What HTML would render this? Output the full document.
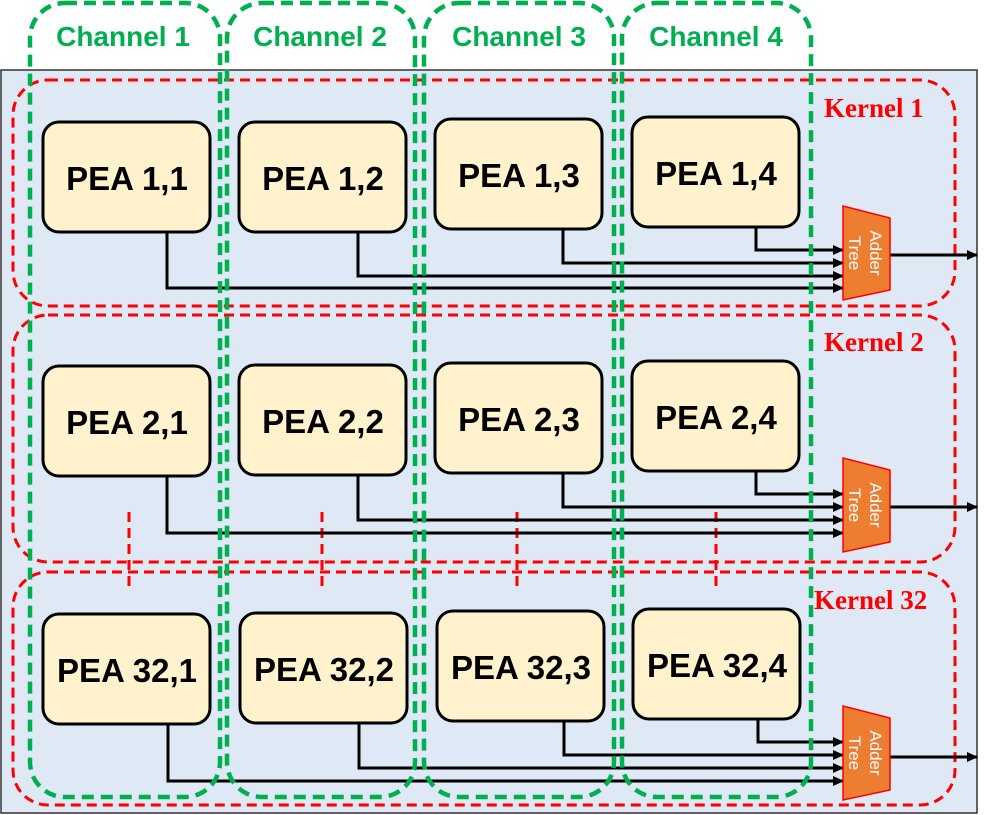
<!DOCTYPE html><html><head><style>body{margin:0;background:#fff}svg{display:block}</style></head><body>
<svg width="988" height="815" viewBox="0 0 988 815" xmlns="http://www.w3.org/2000/svg">
<defs><marker id="a" markerWidth="11" markerHeight="10" refX="10" refY="5" orient="auto" markerUnits="userSpaceOnUse"><path d="M0,0L11,5L0,10z" fill="#000"/></marker></defs>
<rect x="1" y="70" width="976" height="743" fill="#dee9f5" stroke="#333" stroke-width="1.5"/>
<g fill="none" stroke="#f00" stroke-width="3" stroke-dasharray="10,6">
<rect x="13" y="80" width="942" height="226" rx="35"/>
<rect x="13" y="315" width="942" height="247" rx="35"/>
<rect x="13" y="572" width="942" height="233" rx="35"/>
<path d="M129 512V590M322 512V590M517 512V590M716 512V590"/>
</g>
<g font-family="Liberation Serif,serif" font-weight="bold" font-size="27" fill="#f00">
<text x="824" y="117">Kernel 1</text><text x="824" y="351">Kernel 2</text><text x="814" y="609">Kernel 32</text></g>
<g fill="#fff2cc" stroke="#000" stroke-width="3">
<rect x="43" y="122" width="167" height="110" rx="16"/><rect x="239" y="122" width="167" height="110" rx="16"/><rect x="435" y="119" width="167" height="110" rx="16"/><rect x="632" y="117" width="167" height="110" rx="16"/>
<rect x="43" y="366" width="167" height="110" rx="16"/><rect x="239" y="365" width="167" height="110" rx="16"/><rect x="435" y="363" width="167" height="110" rx="16"/><rect x="632" y="361" width="167" height="110" rx="16"/>
<rect x="43" y="614" width="167" height="110" rx="16"/><rect x="240" y="613" width="167" height="110" rx="16"/><rect x="437" y="611" width="167" height="110" rx="16"/><rect x="633" y="609" width="167" height="110" rx="16"/>
</g>
<g font-family="Liberation Sans,sans-serif" font-weight="bold" font-size="33" text-anchor="middle" fill="#000">
<text x="127" y="190">PEA 1,1</text><text x="323" y="190">PEA 1,2</text><text x="519" y="187">PEA 1,3</text><text x="716" y="185">PEA 1,4</text>
<text x="127" y="434">PEA 2,1</text><text x="323" y="433">PEA 2,2</text><text x="519" y="431">PEA 2,3</text><text x="716" y="429">PEA 2,4</text>
<text x="127" y="682">PEA 32,1</text><text x="324" y="681">PEA 32,2</text><text x="521" y="679">PEA 32,3</text><text x="717" y="677">PEA 32,4</text>
</g>
<g fill="none" stroke="#000" stroke-width="3" marker-end="url(#a)">
<path d="M756 227V250H843"/><path d="M563 229V263H843"/><path d="M358 232V276H843"/><path d="M167 232V288H843"/><path d="M890 255H977"/>
<path d="M756 471V494H843"/><path d="M563 473V507H843"/><path d="M358 475V520H843"/><path d="M167 476V533H843"/><path d="M890 507H977"/>
<path d="M758 719V742H843"/><path d="M564 721V755H843"/><path d="M359 723V768H843"/><path d="M168 724V781H843"/><path d="M890 757H977"/>
</g>
<g fill="#ed7d31" stroke="#f00" stroke-width="1.5">
<path d="M843 206L890 218V290L843 300z"/><path d="M843 458L890 470V542L843 552z"/><path d="M843 706L890 718V790L843 800z"/>
</g>
<g font-family="Liberation Sans,sans-serif" font-size="17" fill="#fff" text-anchor="middle">
<text transform="translate(870,253) rotate(90)">Adder</text><text transform="translate(849,253) rotate(90)">Tree</text>
<text transform="translate(870,505) rotate(90)">Adder</text><text transform="translate(849,505) rotate(90)">Tree</text>
<text transform="translate(870,753) rotate(90)">Adder</text><text transform="translate(849,753) rotate(90)">Tree</text>
</g>
<g fill="none" stroke="#00b050" stroke-width="4.5" stroke-dasharray="12,7">
<rect x="30" y="3" width="190" height="794" rx="35"/><rect x="227" y="3" width="188" height="794" rx="35"/>
<rect x="424" y="3" width="190" height="794" rx="35"/><rect x="622" y="3" width="189" height="794" rx="35"/>
</g>
<g font-family="Liberation Sans,sans-serif" font-weight="bold" font-size="28" fill="#00b050" text-anchor="middle">
<text x="123" y="46">Channel 1</text><text x="320" y="46">Channel 2</text><text x="519" y="46">Channel 3</text><text x="716" y="46">Channel 4</text>
</g>
</svg></body></html>
